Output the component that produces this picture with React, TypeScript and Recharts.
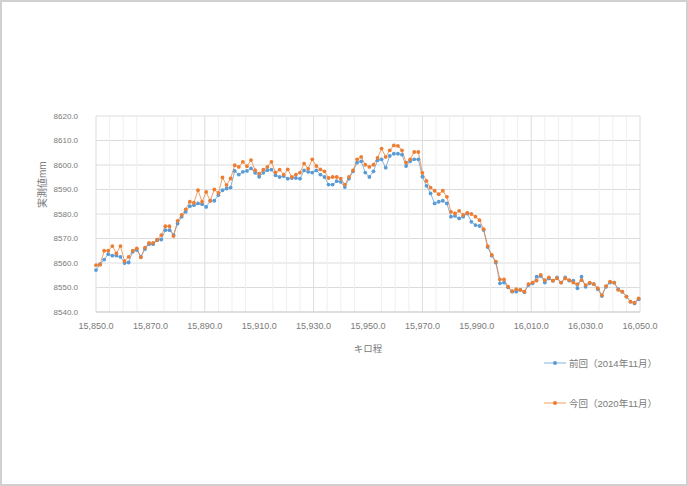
import React from 'react';
import {
  LineChart,
  Line,
  XAxis,
  YAxis,
  CartesianGrid,
  ReferenceLine,
} from 'recharts';

// キロ程 (km), sampled every 1.5
const KM = [
  15850, 15851.5, 15853, 15854.5, 15856, 15857.5, 15859, 15860.5, 15862, 15863.5,
  15865, 15866.5, 15868, 15869.5, 15871, 15872.5, 15874, 15875.5, 15877, 15878.5,
  15880, 15881.5, 15883, 15884.5, 15886, 15887.5, 15889, 15890.5, 15892, 15893.5,
  15895, 15896.5, 15898, 15899.5, 15901, 15902.5, 15904, 15905.5, 15907, 15908.5,
  15910, 15911.5, 15913, 15914.5, 15916, 15917.5, 15919, 15920.5, 15922, 15923.5,
  15925, 15926.5, 15928, 15929.5, 15931, 15932.5, 15934, 15935.5, 15937, 15938.5,
  15940, 15941.5, 15943, 15944.5, 15946, 15947.5, 15949, 15950.5, 15952, 15953.5,
  15955, 15956.5, 15958, 15959.5, 15961, 15962.5, 15964, 15965.5, 15967, 15968.5,
  15970, 15971.5, 15973, 15974.5, 15976, 15977.5, 15979, 15980.5, 15982, 15983.5,
  15985, 15986.5, 15988, 15989.5, 15991, 15992.5, 15994, 15995.5, 15997, 15998.5,
  16000, 16001.5, 16003, 16004.5, 16006, 16007.5, 16009, 16010.5, 16012, 16013.5,
  16015, 16016.5, 16018, 16019.5, 16021, 16022.5, 16024, 16025.5, 16027, 16028.5,
  16030, 16031.5, 16033, 16034.5, 16036, 16037.5, 16039, 16040.5, 16042, 16043.5,
  16045, 16046.5, 16048, 16049.5,
];

// 前回（2014年11月）
const PREV = [
  8557.1, 8559.5, 8561.4, 8563.6, 8563.0, 8563.0, 8562.5, 8560.0, 8560.2, 8564.6,
  8565.3, 8562.5, 8565.7, 8567.7, 8567.7, 8569.3, 8569.6, 8573.4, 8573.4, 8571.4,
  8576.1, 8578.9, 8580.9, 8583.2, 8583.6, 8584.3, 8584.0, 8582.9, 8585.4, 8585.4,
  8587.7, 8589.7, 8590.4, 8590.8, 8597.6, 8596.1, 8597.2, 8597.6, 8598.6, 8596.8,
  8595.2, 8596.8, 8597.9, 8598.1, 8595.8, 8595.1, 8595.5, 8594.4, 8594.7, 8594.7,
  8594.4, 8597.8, 8597.2, 8596.9, 8597.8, 8596.1, 8595.1, 8592.0, 8592.0, 8593.4,
  8593.1, 8591.0, 8594.4, 8597.4, 8601.0, 8601.5, 8596.9, 8595.1, 8597.4, 8601.9,
  8602.3, 8598.9, 8603.7, 8604.6, 8604.6, 8604.2, 8599.6, 8601.5, 8602.3, 8602.3,
  8595.2, 8591.5, 8588.4, 8584.3, 8585.0, 8585.4, 8584.3, 8578.9, 8579.2, 8578.2,
  8578.9, 8580.2, 8576.8, 8575.5, 8575.1, 8573.5, 8566.5, 8563.0, 8560.2, 8551.7,
  8552.0, 8550.1, 8548.3, 8548.3, 8549.0, 8548.1, 8551.0, 8551.7, 8554.4, 8554.7,
  8552.0, 8553.7, 8552.8, 8554.1, 8552.0, 8554.1, 8552.8, 8552.8, 8549.7, 8554.4,
  8550.3, 8551.7, 8551.4, 8549.3, 8546.5, 8550.3, 8552.0, 8552.0, 8549.3, 8548.3,
  8546.3, 8544.2, 8543.5, 8545.2,
];

// 今回（2020年11月）
const CURR = [
  8559.1, 8559.3, 8565.0, 8565.0, 8566.9, 8563.9, 8566.9, 8560.8, 8562.5, 8565.0,
  8566.0, 8562.3, 8566.3, 8568.2, 8568.2, 8569.5, 8571.4, 8575.0, 8575.0, 8571.0,
  8577.2, 8579.6, 8581.9, 8585.0, 8584.6, 8589.7, 8585.0, 8589.0, 8585.4, 8590.0,
  8588.6, 8594.9, 8591.8, 8594.5, 8599.9, 8599.2, 8601.3, 8599.5, 8602.0, 8597.9,
  8596.5, 8598.1, 8599.2, 8601.3, 8597.0, 8598.1, 8596.1, 8598.2, 8595.1, 8596.1,
  8596.9, 8600.6, 8598.5, 8602.3, 8599.6, 8598.2, 8597.4, 8594.7, 8595.1, 8595.1,
  8594.4, 8592.0, 8595.1, 8597.8, 8602.3, 8603.3, 8600.1, 8599.2, 8600.1, 8602.9,
  8606.7, 8603.3, 8606.0, 8608.0, 8607.8, 8606.0, 8601.0, 8602.3, 8605.3, 8605.3,
  8596.8, 8593.5, 8590.8, 8589.5, 8588.1, 8589.5, 8587.0, 8580.9, 8580.2, 8581.3,
  8579.6, 8580.5, 8580.0, 8578.9, 8577.5, 8573.8, 8566.9, 8563.3, 8560.6, 8553.3,
  8553.3, 8550.3, 8548.5, 8549.3, 8549.0, 8548.3, 8551.4, 8552.0, 8552.8, 8555.1,
  8553.0, 8554.1, 8552.8, 8553.7, 8552.0, 8553.7, 8553.0, 8552.0, 8551.4, 8553.0,
  8551.0, 8552.0, 8551.4, 8549.7, 8546.9, 8550.6, 8552.4, 8552.0, 8549.0, 8548.3,
  8546.3, 8544.2, 8543.8, 8545.6,
];

const X_TICKS = [15850, 15870, 15890, 15910, 15930, 15950, 15970, 15990, 16010, 16030, 16050];
const Y_TICKS = [8540, 8550, 8560, 8570, 8580, 8590, 8600, 8610, 8620];
const MINOR_X = X_TICKS.slice(0, -1).flatMap((t) => [t + 5, t + 10, t + 15]);

const BLUE = '#5B9BD5';
const ORANGE = '#ED7D31';
const TEXT = '#7a7a7a';
const FONT = '"Liberation Sans", "Noto Sans CJK JP", sans-serif';

const data = KM.map((km, i) => ({ km, prev: PREV[i], curr: CURR[i] }));

const fmtX = (v: number) =>
  v.toLocaleString('en-US', { minimumFractionDigits: 1, maximumFractionDigits: 1 });

function LegendItem({ color, label, top }: { color: string; label: string; top: number }) {
  return (
    <div
      style={{
        position: 'absolute',
        left: 542,
        top,
        display: 'flex',
        alignItems: 'center',
        fontFamily: FONT,
        fontSize: 9.5,
        color: TEXT,
        whiteSpace: 'nowrap',
      }}
    >
      <svg width={22} height={8} style={{ marginRight: 3 }}>
        <line x1={0} y1={4} x2={22} y2={4} stroke={color} strokeWidth={1} strokeOpacity={0.75} />
        <circle cx={11} cy={4} r={2} fill={color} />
      </svg>
      {label}
    </div>
  );
}

export default function App() {
  return (
    <div
      style={{
        position: 'absolute',
        left: 0,
        top: 0,
        width: 688,
        height: 486,
        boxSizing: 'border-box',
        border: '2px solid #d0d0d0',
        background: '#fff',
      }}
    >
      <div style={{ position: 'absolute', left: -2, top: -2 }}>
        <LineChart
          width={688}
          height={486}
          data={data}
          margin={{ top: 116, right: 48, bottom: 144, left: 36 }}
        >
          <CartesianGrid stroke="#dcdcdc" strokeWidth={1} />
          {MINOR_X.map((x) => (
            <ReferenceLine key={x} x={x} stroke="#efefef" strokeWidth={1} />
          ))}
          <XAxis
            dataKey="km"
            type="number"
            domain={[15850, 16050]}
            ticks={X_TICKS}
            tickFormatter={fmtX}
            tick={{ fontSize: 9, fill: TEXT, fontFamily: FONT }}
            tickLine={false}
            tickMargin={5}
            axisLine={{ stroke: '#cfcfcf' }}
            height={30}
            label={{
              value: 'キロ程',
              position: 'insideBottom',
              offset: -10,
              fontSize: 9.5,
              fill: TEXT,
              fontFamily: FONT,
            }}
          />
          <YAxis
            type="number"
            domain={[8540, 8620]}
            ticks={Y_TICKS}
            tickFormatter={(v: number) => v.toFixed(1)}
            tick={{ fontSize: 8, fill: TEXT, fontFamily: FONT }}
            tickLine={false}
            axisLine={false}
            tickMargin={12}
            width={60}
            label={{
              value: '実測値mm',
              angle: -90,
              position: 'insideLeft',
              offset: 0,
              dx: 6,
              dy: -6,
              fontSize: 10,
              fill: TEXT,
              fontFamily: FONT,
            }}
          />
          <Line
            dataKey="prev"
            stroke={BLUE}
            strokeWidth={1}
            strokeOpacity={0.75}
            dot={{ r: 1.9, fill: BLUE, stroke: 'none' }}
            activeDot={false}
            isAnimationActive={false}
          />
          <Line
            dataKey="curr"
            stroke={ORANGE}
            strokeWidth={1}
            strokeOpacity={0.75}
            dot={{ r: 1.9, fill: ORANGE, stroke: 'none' }}
            activeDot={false}
            isAnimationActive={false}
          />
        </LineChart>
      </div>
      <LegendItem color={BLUE} label="前回（2014年11月）" top={354} />
      <LegendItem color={ORANGE} label="今回（2020年11月）" top={394} />
    </div>
  );
}
